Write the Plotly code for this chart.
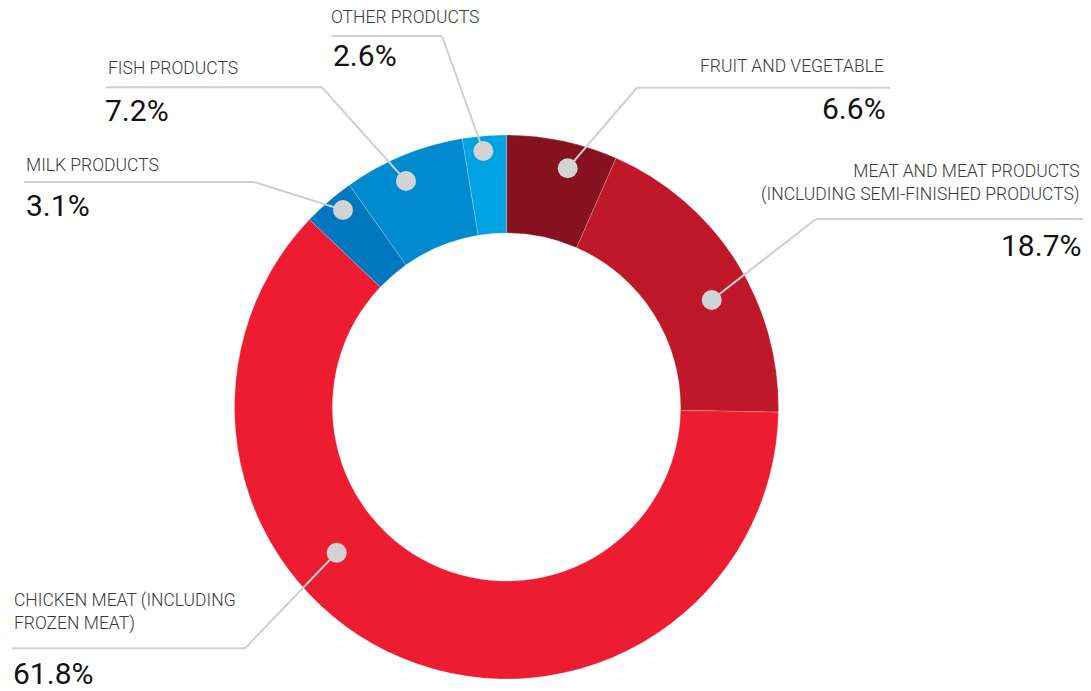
import plotly.graph_objects as go

# ---- data ----
categories = [
    "FRUIT AND VEGETABLE",
    "MEAT AND MEAT PRODUCTS<br>(INCLUDING SEMI-FINISHED PRODUCTS)",
    "CHICKEN MEAT (INCLUDING<br>FROZEN MEAT)",
    "MILK PRODUCTS",
    "FISH PRODUCTS",
    "OTHER PRODUCTS",
]
shares = [6.6, 18.7, 61.8, 3.1, 7.2, 2.6]
colors = ["#87121F", "#BE1829", "#EE1C31", "#0077BE", "#008BD0", "#00A2E2"]

W, H = 1091, 691
CX, CY, R = 506.5, 407.0, 272.0

# ---- callout layout (pixel space) ----
callouts = [
    dict(dot=(567.7, 168.3), elbow=(637, 87.7), end=(890, 87.7), side="right",
         lab_y=65.8, num_y=108.8, lab_x=886, num_x=888),
    dict(dot=(711.7, 300.0), elbow=(816, 219), end=(1083, 219), side="right",
         lab_y=182.8, num_y=245.9, lab_x=1082, num_x=1083),
    dict(dot=(336.7, 552.7), elbow=(245, 648.3), end=(12, 648.3), side="left",
         lab_y=612.0, num_y=673.0, lab_x=12, num_x=11),
    dict(dot=(343.0, 210.0), elbow=(254, 182), end=(24, 182), side="left",
         lab_y=164.5, num_y=205.5, lab_x=24, num_x=24),
    dict(dot=(406.0, 181.0), elbow=(322, 87.3), end=(106, 87.3), side="left",
         lab_y=67.8, num_y=110.8, lab_x=106, num_x=103),
    dict(dot=(483.3, 151.0), elbow=(442, 36), end=(332, 36), side="left",
         lab_y=16.8, num_y=55.8, lab_x=329, num_x=331),
]

fig = go.Figure()

fig.add_trace(go.Pie(
    labels=categories,
    values=shares,
    sort=False,
    direction="clockwise",
    rotation=0,
    hole=0.64,
    textinfo="none",
    hoverinfo="label+percent",
    marker=dict(colors=colors, line=dict(color="rgba(255,255,255,0.35)", width=0.6)),
    domain=dict(x=[(CX - R) / W, (CX + R) / W], y=[(H - CY - R) / H, (H - CY + R) / H]),
    showlegend=False,
))

# invisible scatter to activate overlay axes
fig.add_trace(go.Scatter(x=[0, W], y=[0, H], mode="markers",
                         marker=dict(opacity=0), hoverinfo="skip", showlegend=False))

shapes = []
annotations = []
LINE = dict(color="#CFCFCF", width=2)
for cat, val, c in zip(categories, shares, callouts):
    (dx, dy), (ex, ey), (lx, ly) = c["dot"], c["elbow"], c["end"]
    shapes.append(dict(type="line", xref="x", yref="y", x0=lx, y0=ly, x1=ex, y1=ey,
                       line=LINE, layer="above"))
    shapes.append(dict(type="line", xref="x", yref="y", x0=ex, y0=ey, x1=dx, y1=dy,
                       line=LINE, layer="above"))
    rr = 10
    shapes.append(dict(type="circle", xref="x", yref="y", x0=dx - rr, y0=dy - rr,
                       x1=dx + rr, y1=dy + rr, fillcolor="#D1D3D4",
                       line=dict(width=0), layer="above"))
    anchor = "right" if c["side"] == "right" else "left"
    annotations.append(dict(xref="x", yref="y", x=c["lab_x"], y=c["lab_y"], text=cat,
                            showarrow=False, xanchor=anchor, yanchor="middle",
                            align=anchor,
                            font=dict(family="Roboto", size=17.5, color="#3A3A3A", weight=300)))
    annotations.append(dict(xref="x", yref="y", x=c["num_x"], y=c["num_y"],
                            text=f"{val:.1f}%", showarrow=False, xanchor=anchor,
                            yanchor="middle",
                            font=dict(family="Roboto", size=30, color="#111111", weight=400)))

fig.update_layout(
    width=W, height=H,
    margin=dict(l=0, r=0, t=0, b=0),
    paper_bgcolor="white", plot_bgcolor="rgba(0,0,0,0)",
    xaxis=dict(range=[0, W], visible=False, fixedrange=True, domain=[0, 1]),
    yaxis=dict(range=[H, 0], visible=False, fixedrange=True, domain=[0, 1]),
    shapes=shapes,
    annotations=annotations,
)

fig.write_html("out.html", config={"displayModeBar": False},
               post_script="document.body.style.margin='0';")
